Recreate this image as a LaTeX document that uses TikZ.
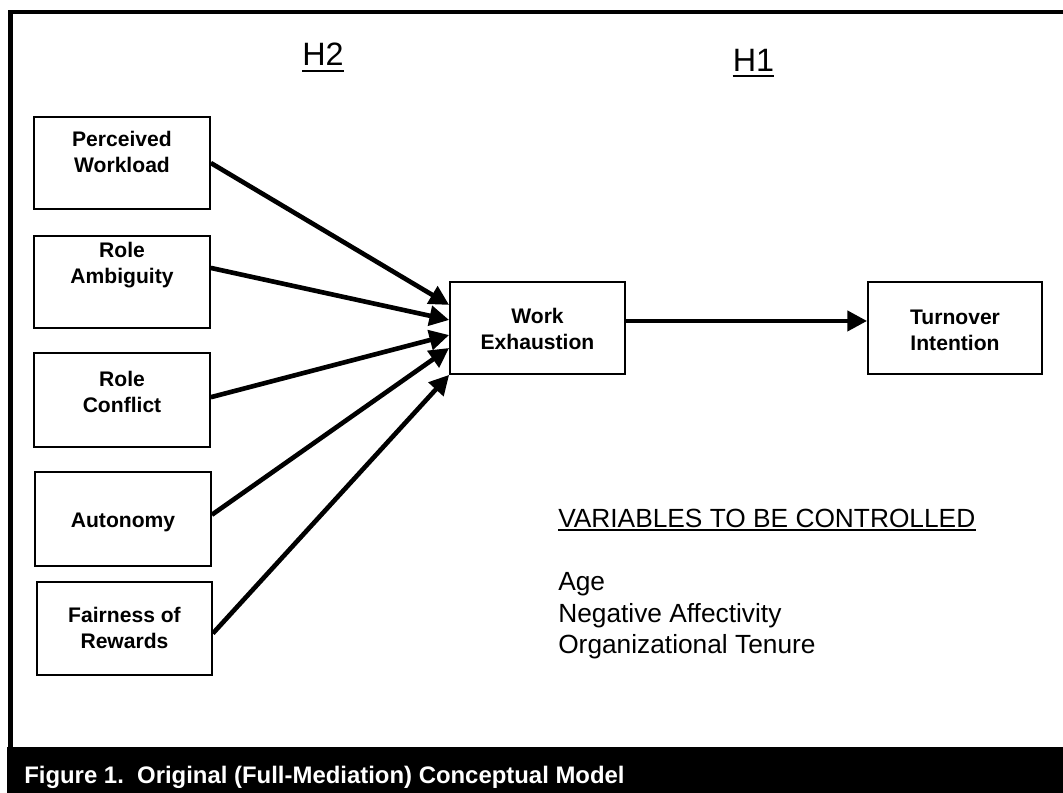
\documentclass[tikz,border=0pt]{standalone}
\usepackage{fontspec}
\setmainfont{Liberation Sans}
\usetikzlibrary{arrows.meta}
\tikzset{
  box/.style={draw, line width=1.2pt, fill=white, minimum width=4.4cm, minimum height=2.3cm, inner sep=0pt},
  lbl/.style={align=center, inner sep=0pt, font=\bfseries\fontsize{15}{18.5}\selectfont},
  conn/.style={line width=3.3pt, -{Triangle[length=14pt,width=14pt]}},
  hyp/.style={anchor=base, inner sep=0pt, font=\fontsize{23}{27}\selectfont},
  ctrl/.style={anchor=base west, inner sep=0pt, font=\fontsize{18.7}{22}\selectfont},
  uline/.style={line width=1.4pt}
}
\begin{document}
\begin{tikzpicture}[x=0.025cm, y=-0.025cm]
  \useasboundingbox (0,0) rectangle (1063,793);
  % frame and caption bar
  \draw[line width=3.5pt] (1063,12) -- (10.5,12) -- (10.5,747);
  \fill (7,747) rectangle (1063,793);
  \node[anchor=base west, inner sep=0pt, text=white, font=\bfseries\fontsize{17}{20}\selectfont] (cap) at (24,783) {Figure 1.\ \ Original (Full-Mediation) Conceptual Model};
  % hypotheses
  \node[hyp] (h2) at (323,66) {H2};
  \node[hyp] (h1) at (753.5,72) {H1};
  \draw[uline] ([yshift=-3.5pt]h2.base west) -- ([yshift=-3.5pt]h2.base east);
  \draw[uline] ([yshift=-3pt]h1.base west) -- ([yshift=-3pt]h1.base east);
  % predictors
  \node[box] (pw) at (122,163) {};
  \node[box] (ra) at (122,282) {};
  \node[box, minimum height=2.35cm] (rc) at (122,400) {};
  \node[box, minimum height=2.35cm] (au) at (123,519) {};
  \node[box, minimum width=4.375cm, minimum height=2.325cm] (fr) at (124.5,628.5) {};
  \node[lbl] (pwt) at (122,152) {Perceived\\Workload};
  \node[lbl] (rat) at (122,265) {Role\\Ambiguity};
  \node[lbl] (rct) at (122,392) {Role\\Conflict};
  \node[lbl] (aut) at (123,522) {Autonomy};
  \node[lbl] (frt) at (124.5,628) {Fairness of\\Rewards};
  % mediator and outcome
  \node[box, minimum width=4.375cm] (we) at (537.5,328) {};
  \node[box, minimum width=4.35cm] (ti) at (955,328) {};
  \node[lbl] (wet) at (537.5,329) {Work\\Exhaustion};
  \node[lbl] (tit) at (955,330) {Turnover\\Intention};
  % paths
  \draw[conn] (pw.east) -- ([yshift=16.4pt]we.west);
  \draw[conn] ([yshift=10pt]ra.east) -- ([yshift=5.7pt]we.west);
  \draw[conn] ([yshift=2pt]rc.east) -- ([yshift=-5pt]we.west);
  \draw[conn] ([yshift=3pt]au.east) -- ([yshift=-14.2pt]we.west);
  \draw[conn] ([yshift=-3.5pt]fr.east) -- (we.south west);
  \draw[conn] ([yshift=5pt]we.east) -- ([yshift=5pt]ti.west);
  % controls
  \node[ctrl] (vc) at (558,527) {VARIABLES TO BE CONTROLLED};
  \draw[uline, line width=1.3pt] ([yshift=-2pt]vc.base west) -- ([yshift=-2pt]vc.base east);
  \node[ctrl] (age) at (558,590) {Age};
  \node[ctrl] (na) at (558,622) {Negative Affectivity};
  \node[ctrl] (ot) at (558,653) {Organizational Tenure};
\end{tikzpicture}
\end{document}
